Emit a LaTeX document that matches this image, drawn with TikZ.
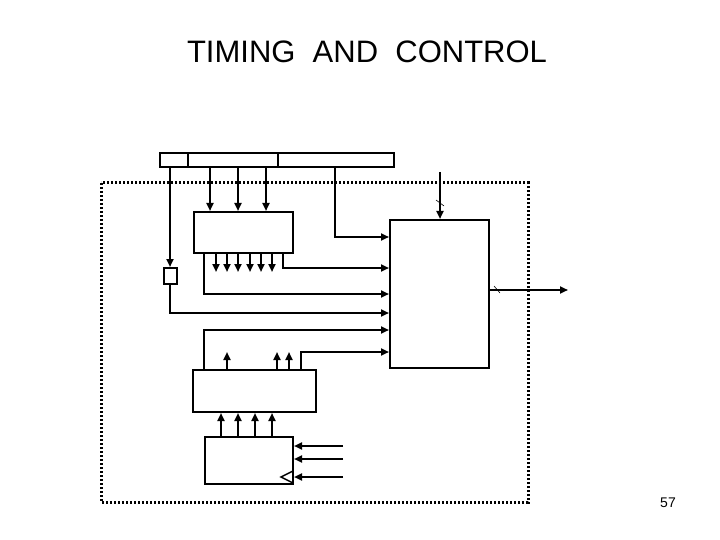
\documentclass[tikz,border=0pt]{standalone}
\usepackage{fontspec}
\setmainfont{Liberation Sans}
\usetikzlibrary{arrows.meta}
\begin{document}
\begin{tikzpicture}[x=1pt,y=-1pt,line width=2pt,
  blk/.style={draw,line width=2pt},
  arr/.style={-{Triangle[length=8pt,width=7pt]}},
  dots/.style={line width=3pt,dash pattern=on 2.2pt off 1.8pt}]
\useasboundingbox (0,0) rectangle (720,540);
\node (title) at (367,52) {\fontsize{31}{36}\selectfont TIMING\ \ AND\ \ CONTROL};
\node (pg) at (668,503) {\fontsize{14}{16}\selectfont 57};
% top bar
\draw[blk] (160,153) rectangle (394,167);
\draw[blk] (188,153) -- (188,167) (278,153) -- (278,167);
\coordinate (barL) at (170,167);
% dotted frame
\draw[dots] (101,183) rectangle (528,502);
% blocks
\node[blk,minimum width=99pt,minimum height=41pt,inner sep=0] (A) at (243.5,232.5) {};
\node[blk,minimum width=99pt,minimum height=148pt,inner sep=0] (M) at (439.5,294) {};
\node[blk,minimum width=13pt,minimum height=16pt,inner sep=0] (S) at (170,276) {};
\node[blk,minimum width=123pt,minimum height=42pt,inner sep=0] (B) at (254.5,391) {};
\node[blk,minimum width=88pt,minimum height=47pt,inner sep=0] (C) at (249,460.5) {};
% bar into A
\foreach \x in {210,238,266} \draw[arr] (\x,167) -- (A.north -| \x,0);
\draw[arr] (barL) -- (S.north);
\draw[arr] (335,167) |- (M.west |- 0,237);
\draw[arr] (440,172) -- (M.north -| 440,0);
\draw[line width=0.6pt] (436,200) -- (444,206);
% output
\coordinate (out) at (568,290);
\draw[arr] (M.east |- out) -- (out);
\draw[line width=0.6pt] (494,286) -- (500,293);
% A outputs
\foreach \x in {216,227,238,250,261,272} \draw[arr] (\x,253) -- (\x,272);
\draw[arr] (283,253) |- (M.west |- 0,268);
\draw[arr] (204,253) |- (M.west |- 0,294);
\draw[arr] (S.south) |- (M.west |- 0,313);
% B outputs
\draw[arr] (204,370) |- (M.west |- 0,330);
\foreach \x in {227,277,289} \draw[arr] (\x,370) -- (\x,352);
\draw[arr] (301,370) |- (M.west |- 0,352);
% C to B
\foreach \x in {221,238,255,272} \draw[arr] (\x,437) -- (B.south -| \x,0);
% inputs to C
\foreach \y in {446,459,477} \draw[arr] (343,\y) -- (C.east |- 0,\y);
\draw[line width=1.4pt] (293,471) -- (281,477) -- (293,483);
\end{tikzpicture}
\end{document}
